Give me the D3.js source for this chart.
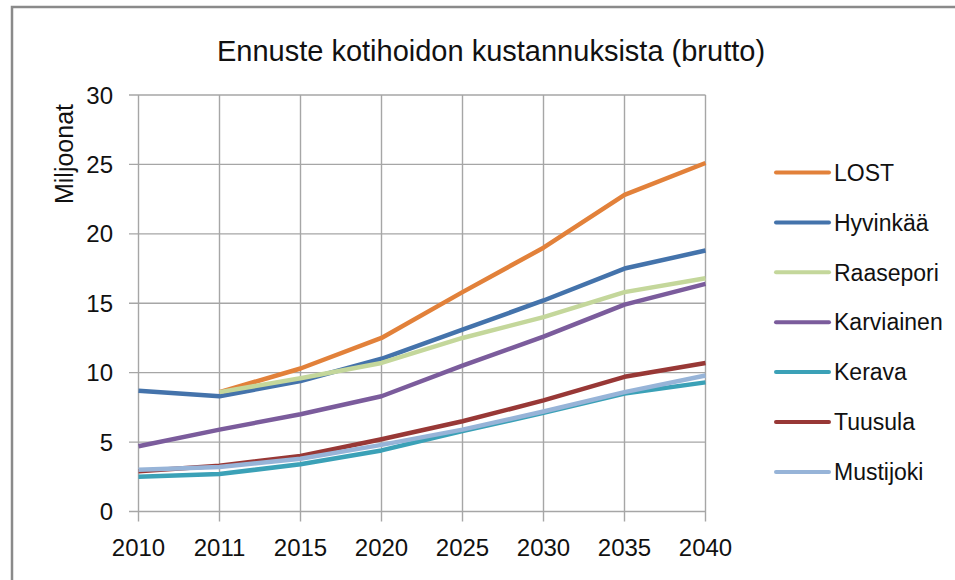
<!DOCTYPE html>
<html lang="fi">
<head>
<meta charset="UTF-8">
<title>Ennuste kotihoidon kustannuksista (brutto)</title>
<script src="https://d3js.org/d3.v7.min.js"></script>
<style>
    body { margin: 0; background: #fff; font-family: "Liberation Sans", Arial, sans-serif; }
    svg { display: block; }
    .grid line { stroke: #a6a6a6; stroke-width: 1.4; }
    .tick-label { font-size: 24px; fill: #111; }
    .legend text { font-size: 23px; fill: #111; }
</style>
</head>
<body>
<div id="chart"></div>
<script>
// years on the category axis
const years = ["2010", "2011", "2015", "2020", "2025", "2030", "2035", "2040"];
const yTicks = [0, 5, 10, 15, 20, 25, 30];

// series values (millions), null = no value
const lost       = [null, 8.6, 10.3, 12.5, 15.8, 19.0, 22.8, 25.1];
const hyvinkaa   = [8.7, 8.3, 9.4, 11.0, 13.1, 15.2, 17.5, 18.8];
const raasepori  = [null, 8.6, 9.6, 10.7, 12.5, 14.0, 15.8, 16.8];
const karviainen = [4.7, 5.9, 7.0, 8.3, 10.5, 12.6, 14.9, 16.4];
const kerava     = [2.5, 2.7, 3.4, 4.4, 5.8, 7.1, 8.5, 9.3];
const tuusula    = [2.9, 3.3, 4.0, 5.2, 6.5, 8.0, 9.7, 10.7];
const mustijoki  = [3.0, 3.2, 3.8, 4.8, 5.9, 7.2, 8.6, 9.8];

const series = [
    { name: "LOST", values: lost, color: "#e2813a" },
    { name: "Hyvinkää", values: hyvinkaa, color: "#4473ab" },
    { name: "Raasepori", values: raasepori, color: "#c4d79b" },
    { name: "Karviainen", values: karviainen, color: "#7b5c9c" },
    { name: "Kerava", values: kerava, color: "#3ba1b7" },
    { name: "Tuusula", values: tuusula, color: "#983836" },
    { name: "Mustijoki", values: mustijoki, color: "#97b4d8" }
];

const W = 955, H = 580;
const svg = d3.select("#chart").append("svg")
    .attr("width", W)
    .attr("height", H);

// outer chart frame
svg.append("rect")
    .attr("x", 12).attr("y", 7)
    .attr("width", W).attr("height", H)
    .attr("fill", "none")
    .attr("stroke", "#8a8a8a")
    .attr("stroke-width", 2.5);

const x = d3.scalePoint()
    .domain(years)
    .range([138.5, 705.5]);

const y = d3.scaleLinear()
    .domain([0, 30])
    .range([511.5, 95]);

// horizontal gridlines (with outward tick marks)
const grid = svg.append("g").attr("class", "grid");
grid.selectAll(".hg")
    .data(yTicks)
    .join("line")
    .attr("x1", 129).attr("x2", x("2040"))
    .attr("y1", d => y(d)).attr("y2", d => y(d));

// vertical gridlines
grid.selectAll(".vg")
    .data(years)
    .join("line")
    .attr("x1", d => x(d)).attr("x2", d => x(d))
    .attr("y1", y(30)).attr("y2", y(0) + 10);

// y tick labels
svg.append("g").selectAll("text")
    .data(yTicks)
    .join("text")
    .attr("class", "tick-label")
    .attr("x", 113)
    .attr("y", d => y(d))
    .attr("dy", "0.36em")
    .attr("text-anchor", "end")
    .text(d => d);

// x tick labels
svg.append("g").selectAll("text")
    .data(years)
    .join("text")
    .attr("class", "tick-label")
    .attr("x", d => x(d))
    .attr("y", 556)
    .attr("text-anchor", "middle")
    .text(d => d);

// lines
const line = d3.line()
    .defined(d => d.v != null)
    .x(d => x(d.year))
    .y(d => y(d.v));

svg.append("g").selectAll("path")
    .data(series)
    .join("path")
    .attr("fill", "none")
    .attr("stroke", d => d.color)
    .attr("stroke-width", 4.5)
    .attr("stroke-linejoin", "round")
    .attr("d", d => line(d.values.map((v, i) => ({ year: years[i], v }))));

// title
svg.append("text")
    .attr("x", 491)
    .attr("y", 61)
    .attr("text-anchor", "middle")
    .style("font-size", "29px")
    .style("fill", "#111")
    .text("Ennuste kotihoidon kustannuksista (brutto)");

// y axis title
svg.append("text")
    .attr("transform", "translate(73,154) rotate(-90)")
    .attr("text-anchor", "middle")
    .style("font-size", "25px")
    .style("fill", "#111")
    .text("Miljoonat");

// legend
const legend = svg.append("g").attr("class", "legend");
const row = legend.selectAll("g")
    .data(series)
    .join("g")
    .attr("transform", (d, i) => `translate(776,${172.5 + i * 49.9})`);

row.append("line")
    .attr("x1", 0).attr("x2", 53)
    .attr("stroke", d => d.color)
    .attr("stroke-width", 4)
    .attr("stroke-linecap", "round");

row.append("text")
    .attr("x", 58)
    .attr("dy", "0.36em")
    .text(d => d.name);
</script>
</body>
</html>
